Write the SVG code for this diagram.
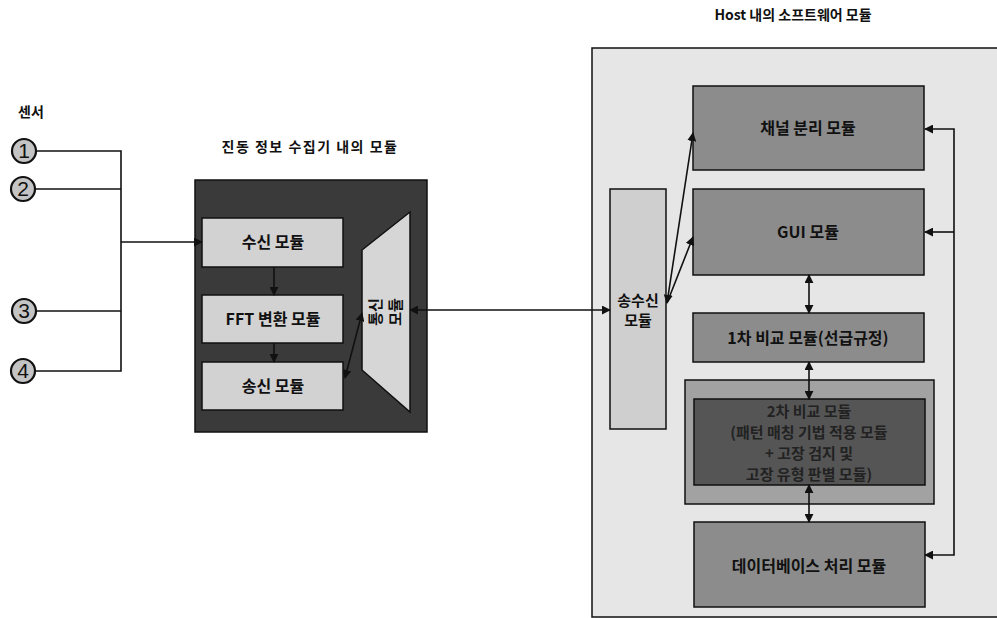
<svg xmlns="http://www.w3.org/2000/svg" width="997" height="618" viewBox="0 0 997 618">
<style>
  text { font-family: "Noto Sans CJK KR", "Noto Sans", sans-serif; font-weight: bold; fill: #111; }
  .t14 { font-size: 14px; }
  .t16 { font-size: 16px; text-anchor: middle; }
  .t15 { font-size: 15px; text-anchor: middle; }
  .box { stroke: #111; stroke-width: 1.5; }
  .wire { stroke: #111; stroke-width: 1.6; fill: none; }
  .num { font-family: "Liberation Sans", "DejaVu Sans", sans-serif; font-size: 21px; text-anchor: middle; font-weight: normal; }
</style>
<defs>
  <marker id="ah" viewBox="0 0 10 10" refX="9" refY="5" markerWidth="9" markerHeight="9" orient="auto-start-reverse" markerUnits="userSpaceOnUse">
    <path d="M0,0 L10,5 L0,10 z" fill="#111"/>
  </marker>
</defs>
<rect width="997" height="618" fill="#ffffff"/>

<g id="sensor-label"><text class="t14" x="18" y="117">센서</text></g>
<g id="sensor1"><circle cx="24" cy="151" r="12" fill="#c4c4c4" stroke="#111" stroke-width="2.2"/><text class="num" x="24" y="158">1</text></g>
<g id="sensor2"><circle cx="23" cy="189" r="12" fill="#c4c4c4" stroke="#111" stroke-width="2.2"/><text class="num" x="23" y="196">2</text></g>
<g id="sensor3"><circle cx="24" cy="311" r="12" fill="#c4c4c4" stroke="#111" stroke-width="2.2"/><text class="num" x="24" y="318">3</text></g>
<g id="sensor4"><circle cx="23" cy="371" r="12" fill="#c4c4c4" stroke="#111" stroke-width="2.2"/><text class="num" x="23" y="378">4</text></g>

<g id="collector">
  <text class="t14" x="310" y="152" text-anchor="middle" letter-spacing="1.5">진동 정보 수집기 내의 모듈</text>
  <rect class="box" x="195" y="180" width="232" height="252" fill="#3a3a3a"/>
</g>
<g id="recv"><rect class="box" x="202" y="218" width="141" height="49" fill="#d2d2d2"/><text class="t16" x="273" y="248">수신 모듈</text></g>
<g id="fft"><rect class="box" x="202" y="295" width="141" height="48" fill="#d2d2d2"/><text class="t16" x="273" y="325">FFT 변환 모듈</text></g>
<g id="send"><rect class="box" x="202" y="362" width="141" height="48" fill="#d2d2d2"/><text class="t16" x="273" y="392">송신 모듈</text></g>
<g id="comm">
  <polygon class="box" points="410,212 410,412 362,370 362,250" fill="#d6d6d6"/>
  <g transform="translate(386,312) rotate(-90)">
    <text class="t15" x="0" y="-5">통신</text>
    <text class="t15" x="0" y="15">모듈</text>
  </g>
</g>

<g id="host">
  <text class="t14" x="793" y="20" text-anchor="middle">Host 내의 소프트웨어 모듈</text>
  <rect class="box" x="592" y="48" width="420" height="569" fill="#e6e6e6"/>
</g>
<g id="trx"><rect class="box" x="610" y="189" width="56" height="240" fill="#cfcfcf"/><text class="t15" x="638" y="306">송수신</text><text class="t15" x="638" y="326">모듈</text></g>
<g id="channel"><rect class="box" x="693" y="86" width="231" height="84" fill="#8c8c8c"/><text class="t16" x="808" y="134">채널 분리 모듈</text></g>
<g id="gui"><rect class="box" x="693" y="189" width="231" height="86" fill="#8c8c8c"/><text class="t16" x="808" y="238">GUI 모듈</text></g>
<g id="cmp1"><rect class="box" x="693" y="313" width="231" height="49" fill="#8c8c8c"/><text class="t16" x="808" y="344">1차 비교 모듈(선급규정)</text></g>
<g id="cmp2">
  <rect class="box" x="685" y="380" width="249" height="124" fill="#a2a2a2"/>
  <rect class="box" x="694" y="399" width="231" height="86" fill="#555555"/>
  <text class="t15" x="809" y="417" style="fill:#222">2차 비교 모듈</text>
  <text class="t15" x="809" y="438" style="fill:#222">(패턴 매칭 기법 적용 모듈</text>
  <text class="t15" x="809" y="459" style="fill:#222">+ 고장 검지 및</text>
  <text class="t15" x="809" y="480" style="fill:#222">고장 유형 판별 모듈)</text>
</g>
<g id="db"><rect class="box" x="694" y="522" width="231" height="85" fill="#8c8c8c"/><text class="t16" x="809" y="572">데이터베이스 처리 모듈</text></g>

<g id="connectors">
  <polyline class="wire" points="36,151 121,151 121,371 35,371"/>
  <line class="wire" x1="35" y1="189" x2="121" y2="189"/>
  <line class="wire" x1="36" y1="311" x2="121" y2="311"/>
  <line class="wire" x1="121" y1="242" x2="202" y2="242" marker-end="url(#ah)"/>
  <line class="wire" x1="274" y1="267" x2="274" y2="295" marker-end="url(#ah)"/>
  <line class="wire" x1="274" y1="343" x2="274" y2="362" marker-end="url(#ah)"/>
  <line class="wire" x1="345" y1="378" x2="362" y2="313" marker-start="url(#ah)" marker-end="url(#ah)"/>
  <line class="wire" x1="410" y1="310" x2="610" y2="310" marker-start="url(#ah)" marker-end="url(#ah)"/>
  <line class="wire" x1="667" y1="303" x2="693" y2="133" marker-start="url(#ah)" marker-end="url(#ah)"/>
  <line class="wire" x1="667" y1="303" x2="693" y2="237" marker-end="url(#ah)"/>
  <line class="wire" x1="809" y1="275" x2="809" y2="313" marker-start="url(#ah)" marker-end="url(#ah)"/>
  <line class="wire" x1="809" y1="362" x2="809" y2="399" marker-start="url(#ah)" marker-end="url(#ah)"/>
  <line class="wire" x1="809" y1="485" x2="809" y2="522" marker-start="url(#ah)" marker-end="url(#ah)"/>
  <polyline class="wire" points="925,129 954,129 954,555 925,555" marker-start="url(#ah)" marker-end="url(#ah)"/>
  <line class="wire" x1="954" y1="232" x2="925" y2="232" marker-end="url(#ah)"/>
</g>
</svg>
